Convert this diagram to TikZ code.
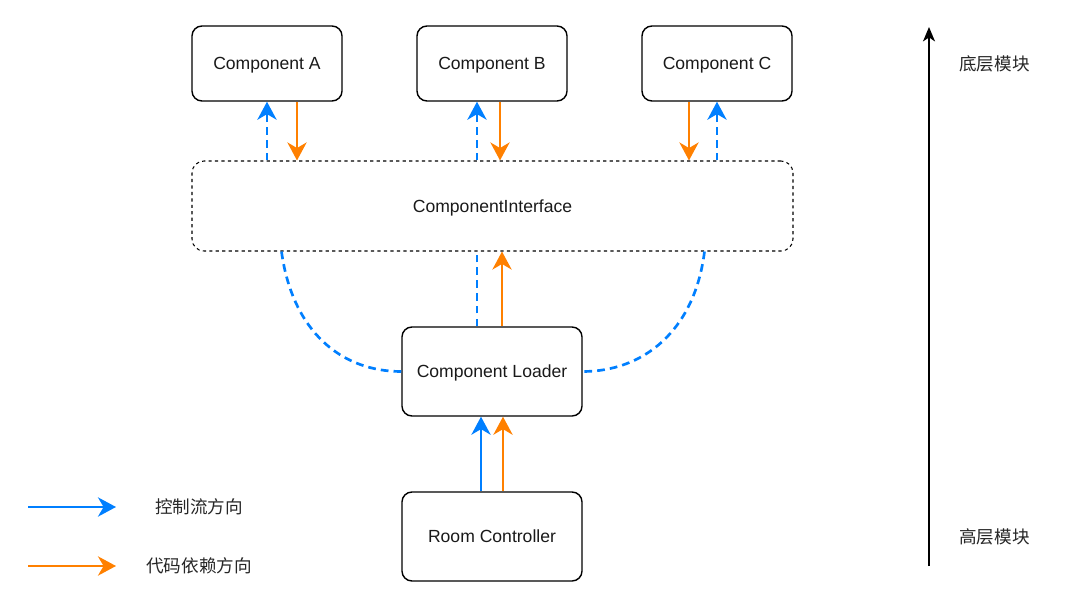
\documentclass[tikz,border=0pt]{standalone}
\usepackage{fontspec}
\setmainfont{Liberation Sans}
\newfontfamily\cjk{Noto Sans CJK SC}
\usetikzlibrary{calc,arrows.meta}
\definecolor{ctrlblue}{HTML}{007FFF}
\definecolor{deporange}{HTML}{FF8000}
\tikzset{
	comp/.style={draw, line width=1pt, rounded corners=0.25cm, minimum width=3.75cm, minimum height=1.875cm, text depth=0pt, font=\fontsize{12.5}{15}\selectfont, text=black!90},
	iface/.style={draw, line width=0.75pt, dash pattern=on 2.3pt off 2.3pt, rounded corners=0.3cm, minimum width=15.02cm, minimum height=2.25cm, text depth=0pt, font=\fontsize{12.5}{15}\selectfont, text=black!90},
	tip/.style={-{Stealth[length=0.45cm, width=0.48cm, inset=0.14cm]}},
	ctrl/.style={tip, draw=ctrlblue, line width=1.8pt},
	dep/.style={tip, draw=deporange, line width=1.8pt},
	ctrldash/.style={draw=ctrlblue, line width=1.9pt, dash pattern=on 5.5pt off 3.6pt},
	lbl/.style={font=\cjk\fontsize{12.5}{15}\selectfont, text=black!85}
}

\begin{document}
\begin{tikzpicture}[x=0.025cm, y=-0.025cm]
			%%%%% START %%%%%
			\useasboundingbox (0, 0) rectangle (1080, 610);
			
			\node[comp] (A) at (267, 63.5) {Component A};
			\node[comp] (B) at (492, 63.5) {Component B};
			\node[comp] (C) at (717, 63.5) {Component C};
			
			\node[iface] (I) at (492.5, 206) {ComponentInterface};
			
			\node[comp, minimum width=4.5cm, minimum height=2.225cm] (L) at (492, 371.5) {Component Loader};
			\node[comp, minimum width=4.5cm, minimum height=2.225cm] (R) at (492, 536.5) {Room Controller};
			
			% components <-> interface
			\draw[ctrl, ctrldash] (A.south |- I.north) -- (A.south);
			\draw[dep] ($(A.south)+(30, 0)$) -- ($(A.south |- I.north)+(30, 0)$);
			\draw[ctrl, ctrldash] ($(B.south |- I.north)+(-15, 0)$) -- ($(B.south)+(-15, 0)$);
			\draw[dep] ($(B.south)+(8, 0)$) -- ($(B.south |- I.north)+(8, 0)$);
			\draw[dep] ($(C.south)+(-28, 0)$) -- ($(C.south |- I.north)+(-28, 0)$);
			\draw[ctrl, ctrldash] (C.south |- I.north) -- (C.south);
			
			% loader <-> interface
			\draw[ctrldash] ($(L.north)+(-15, 0)$) -- ($(L.north |- I.south)+(-15, 0)$);
			\draw[dep] ($(L.north)+(10, 0)$) -- ($(L.north |- I.south)+(10, 0)$);
			\draw[ctrldash] ($(I.south)+(-211, 0)$) .. controls ($(I.south)+(-200, 80)$) and ($(L.west)+(-60, 0)$) .. (L.west);
			\draw[ctrldash] ($(I.south)+(212, 0)$) .. controls ($(I.south)+(202, 80)$) and ($(L.east)+(60, 0)$) .. (L.east);
			
			% controller -> loader
			\draw[ctrl] ($(R.north)+(-11, 0)$) -- ($(L.south)+(-11, 0)$);
			\draw[dep] ($(R.north)+(11, 0)$) -- ($(L.south)+(11, 0)$);
			
			% legend
			\coordinate (lc1) at (28, 507);
			\coordinate (lc2) at (116, 507);
			\coordinate (ld1) at (28, 566);
			\coordinate (ld2) at (116, 566);
			\draw[ctrl] (lc1) -- (lc2);
			\draw[dep] (ld1) -- (ld2);
			\node[lbl] (ctrltxt) at (199, 507) {控制流方向};
			\node[lbl] (deptxt) at (199, 566) {代码依赖方向};
			
			% level axis
			\coordinate (axlow) at (929, 566);
			\coordinate (axhigh) at (929, 27);
			\draw[line width=1pt, -{Stealth[length=0.36cm, width=0.3cm, inset=0.1cm]}] (axlow) -- (axhigh);
			\node[lbl] (lowlvl) at (994.5, 63.5) {底层模块};
			\node[lbl] (highlvl) at (994.5, 537) {高层模块};
			
			%%%%% END %%%%%
		\end{tikzpicture}
\end{document}
